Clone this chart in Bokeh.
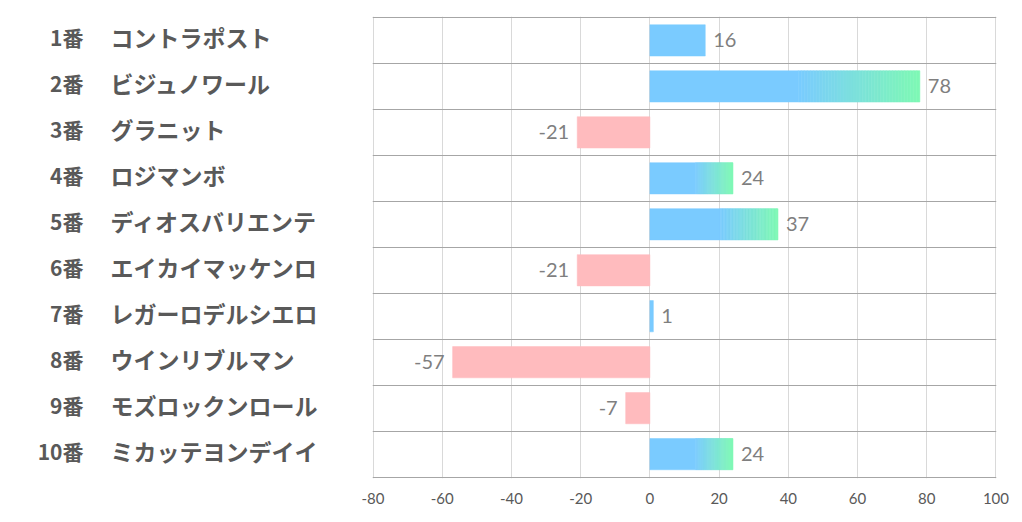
from bokeh.plotting import figure
from bokeh.layouts import row
from bokeh.models import Range1d, FixedTicker, ColumnDataSource
from bokeh.core.properties import value
from bokeh.embed import file_html
from bokeh.resources import INLINE

nums = ["1番", "2番", "3番", "4番", "5番", "6番", "7番", "8番", "9番", "10番"]
names = ["コントラポスト", "ビジュノワール", "グラニット", "ロジマンボ", "ディオスバリエンテ",
         "エイカイマッケンロ", "レガーロデルシエロ", "ウインリブルマン", "モズロックンロール", "ミカッテヨンデイイ"]
values = [16, 78, -21, 24, 37, -21, 1, -57, -7, 24]
x_ticks = [-80, -60, -40, -20, 0, 20, 40, 60, 80, 100]
x_tick_labels = ["-80", "-60", "-40", "-20", "0", "20", "40", "60", "80", "100"]

BLUE = (122, 203, 255)
GREEN = (126, 249, 180)
PINK = "#FFBBBE"
BAR_H = 0.68

ypos = list(range(1, len(values) + 1))
y_range = Range1d(len(values) + 0.53, 0.48)

# ---------- label panel ----------
lp = figure(width=352, height=514, x_range=Range1d(0, 352), y_range=y_range,
            output_backend="svg", toolbar_location=None,
            min_border_left=0, min_border_right=0, min_border_top=16, min_border_bottom=36,
            x_axis_type=None, y_axis_type=None)
lp.outline_line_color = None
lp.grid.visible = False
lsrc = ColumnDataSource(dict(y=ypos, num=nums, name=names))
lp.text(x=83, y="y", text="num", source=lsrc, text_align="right", text_baseline="middle",
        y_offset=-3,
        text_font=value("Noto Sans CJK JP"), text_font_style="bold", text_font_size="21px",
        text_color="#595959")
lp.text(x=110, y="y", text="name", source=lsrc, text_align="left", text_baseline="middle",
        y_offset=-3,
        text_font=value("Noto Sans CJK JP"), text_font_style="bold", text_font_size="23px",
        text_color="#595959")

# ---------- bar panel ----------
p = figure(width=658, height=514, x_range=Range1d(x_ticks[0] - 0.15, x_ticks[-1] + 0.15), y_range=y_range,
           output_backend="svg", toolbar_location=None,
           min_border_left=20, min_border_right=14, min_border_top=16, min_border_bottom=36)
p.outline_line_color = None
p.yaxis.visible = False
p.xaxis.ticker = FixedTicker(ticks=x_ticks)
p.xaxis.major_label_overrides = {t: s for t, s in zip(x_ticks, x_tick_labels)}
p.xaxis.axis_line_color = None
p.xaxis.major_tick_line_color = None
p.xaxis.minor_tick_line_color = None
p.xaxis.major_label_text_font = "Lato"
p.xaxis.major_label_text_font_size = "15px"
p.xaxis.major_label_text_color = "#595959"
p.xaxis.major_label_standoff = 8
p.xgrid.ticker = FixedTicker(ticks=x_ticks)
p.xgrid.grid_line_color = "#D9D9D9"
p.ygrid.ticker = FixedTicker(ticks=[i + 0.5 for i in range(len(values) + 1)])
p.ygrid.grid_line_color = "#A6A6A6"

def hexc(c):
    return "#%02X%02X%02X" % tuple(int(round(v)) for v in c)

solid_left, solid_right, solid_y, solid_col = [], [], [], []
gl, gr, gy, gc = [], [], [], []
N = 40
for y, v in zip(ypos, values):
    if v < 0:
        solid_left.append(v); solid_right.append(0); solid_y.append(y); solid_col.append(PINK)
    elif v < 20:
        solid_left.append(0); solid_right.append(v); solid_y.append(y); solid_col.append(hexc(BLUE))
    else:
        g0 = 0.55 * v
        solid_left.append(0); solid_right.append(g0); solid_y.append(y); solid_col.append(hexc(BLUE))
        step = (v - g0) / N
        for k in range(N):
            t = (k + 0.5) / N
            col = tuple(BLUE[i] + (GREEN[i] - BLUE[i]) * t for i in range(3))
            gl.append(g0 + k * step); gr.append(g0 + (k + 1) * step); gy.append(y); gc.append(hexc(col))

p.hbar(y=solid_y, left=solid_left, right=solid_right, height=BAR_H,
       fill_color=solid_col, line_color=solid_col, line_width=0.5)
p.hbar(y=gy, left=gl, right=gr, height=BAR_H,
       fill_color=gc, line_color=gc, line_width=0.6)

pos_y = [y for y, v in zip(ypos, values) if v >= 0]
pos_v = [v for v in values if v >= 0]
neg_y = [y for y, v in zip(ypos, values) if v < 0]
neg_v = [v for v in values if v < 0]
p.text(x=pos_v, y=pos_y, text=[str(v) for v in pos_v], x_offset=8, text_align="left",
       text_baseline="middle", text_font=value("Lato"), text_font_size="20px", text_color="#7F7F7F")
p.text(x=neg_v, y=neg_y, text=[str(v) for v in neg_v], x_offset=-8, text_align="right",
       text_baseline="middle", text_font=value("Lato"), text_font_size="20px", text_color="#7F7F7F")

layout = row(lp, p)
open("out.html", "w").write(file_html(layout, INLINE))
